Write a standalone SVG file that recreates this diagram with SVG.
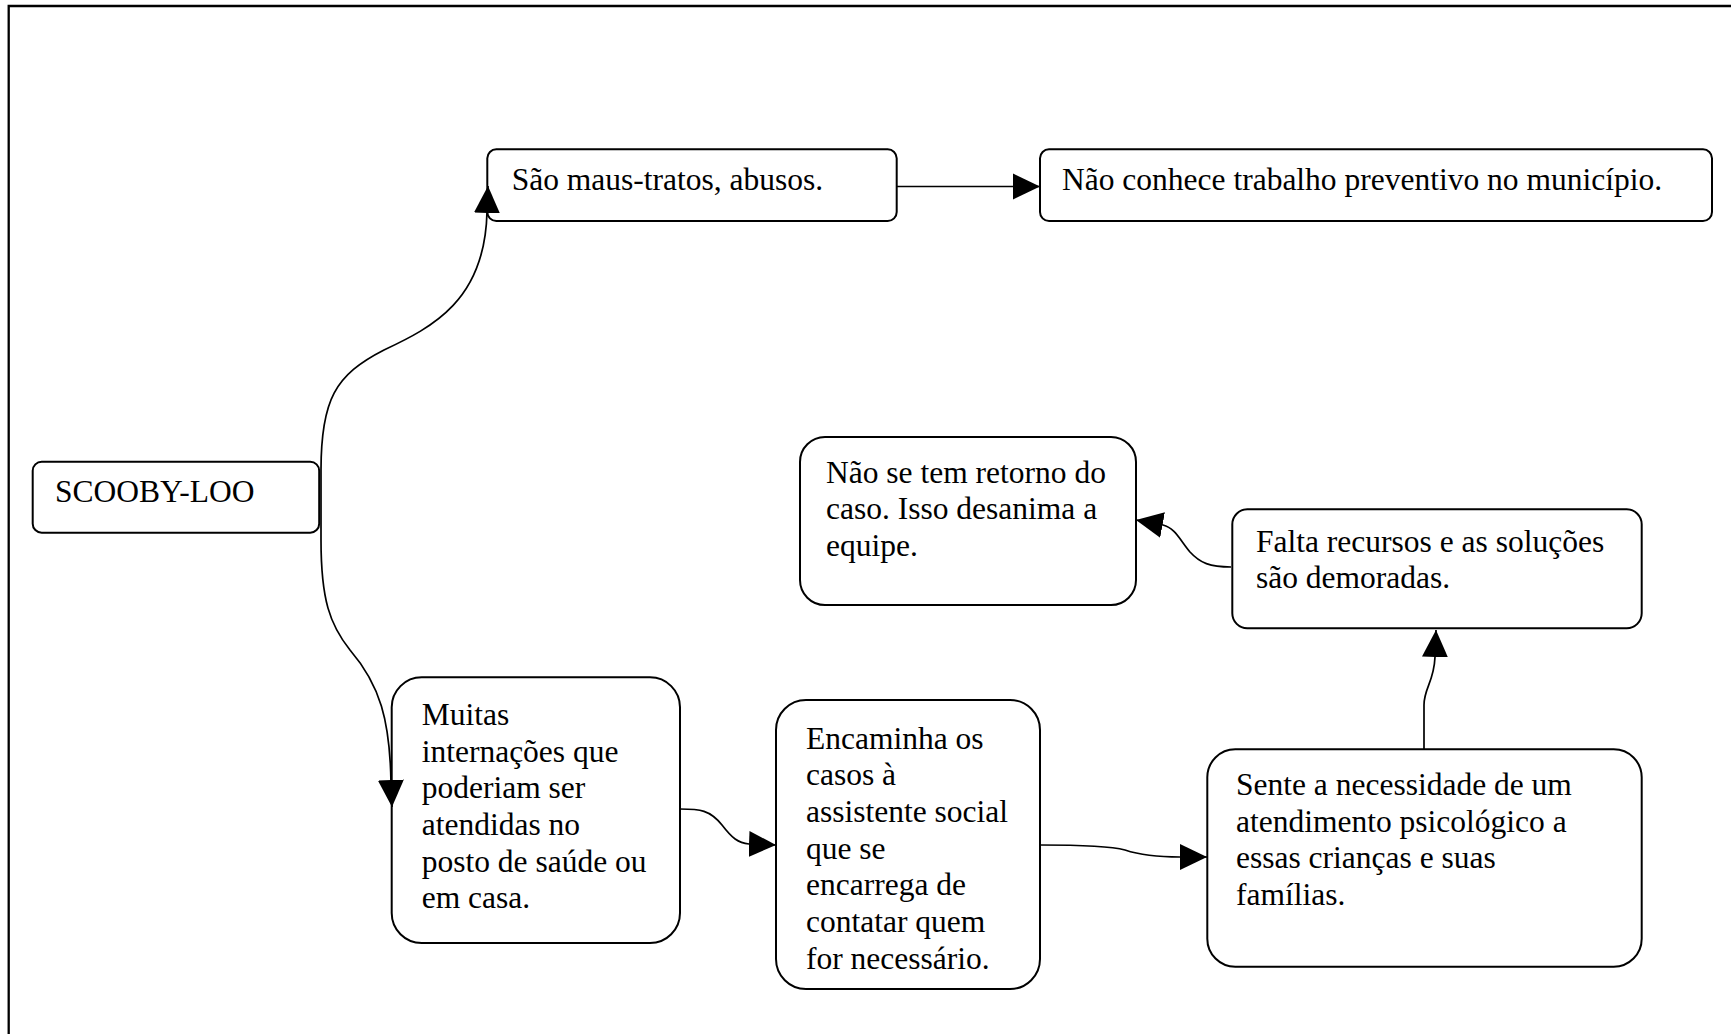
<svg xmlns="http://www.w3.org/2000/svg" width="1731" height="1034" viewBox="0 0 1731 1034">
  <style>
    .box { fill: #ffffff; stroke: #000000; stroke-width: 2; }
    .lbl { font-family: "Liberation Serif", "Times New Roman", serif; font-size: 31.5px; fill: #000000; }
    .edge { fill: none; stroke: #000000; stroke-width: 1.7; }
  </style>
  <defs>
    <marker id="arrow" markerUnits="userSpaceOnUse" markerWidth="28" markerHeight="28" refX="27" refY="13" orient="auto" viewBox="0 0 28 26">
      <path d="M0,0 L27,13 L0,26 Z" fill="#000000"/>
    </marker>
  </defs>

  <rect width="1731" height="1034" fill="#ffffff"/>
  <!-- outer frame (only top and left edges fall inside the page) -->
  <path d="M8.7 1034 L8.7 6 L1731 6" fill="none" stroke="#000000" stroke-width="2.3"/>

  <g id="scooby">
    <rect class="box" x="32.7" y="461.7" width="286.5" height="71" rx="9"/>
    <text class="lbl" x="55" y="501.7">SCOOBY-LOO</text>
  </g>

  <g id="maus-tratos">
    <rect class="box" x="487.3" y="149.3" width="409.4" height="71.7" rx="9"/>
    <text class="lbl" x="511.7" y="190">São maus-tratos, abusos.</text>
  </g>

  <g id="preventivo">
    <rect class="box" x="1040" y="149.3" width="672" height="71.7" rx="9"/>
    <text class="lbl" x="1062" y="190">Não conhece trabalho preventivo no município.</text>
  </g>

  <g id="retorno">
    <rect class="box" x="800" y="437" width="336" height="168" rx="25"/>
    <text class="lbl" x="826" y="482.7">Não se tem retorno do</text>
    <text class="lbl" x="826" y="519.3">caso. Isso desanima a</text>
    <text class="lbl" x="826" y="556">equipe.</text>
  </g>

  <g id="recursos">
    <rect class="box" x="1232.3" y="509.3" width="409.4" height="119" rx="15"/>
    <text class="lbl" x="1256" y="551.7">Falta recursos e as soluções</text>
    <text class="lbl" x="1256" y="588.3">são demoradas.</text>
  </g>

  <g id="internacoes">
    <rect class="box" x="391.7" y="677.3" width="288.3" height="265.7" rx="30"/>
    <text class="lbl" x="421.7" y="725">Muitas</text>
    <text class="lbl" x="421.7" y="761.7">internações que</text>
    <text class="lbl" x="421.7" y="798.3">poderiam ser</text>
    <text class="lbl" x="421.7" y="835">atendidas no</text>
    <text class="lbl" x="421.7" y="871.7">posto de saúde ou</text>
    <text class="lbl" x="421.7" y="908.3">em casa.</text>
  </g>

  <g id="encaminha">
    <rect class="box" x="776" y="700" width="264" height="289" rx="30"/>
    <text class="lbl" x="806" y="748.5">Encaminha os</text>
    <text class="lbl" x="806" y="785.2">casos à</text>
    <text class="lbl" x="806" y="821.8">assistente social</text>
    <text class="lbl" x="806" y="858.5">que se</text>
    <text class="lbl" x="806" y="895.2">encarrega de</text>
    <text class="lbl" x="806" y="931.8">contatar quem</text>
    <text class="lbl" x="806" y="968.5">for necessário.</text>
  </g>

  <g id="psicologico">
    <rect class="box" x="1207.3" y="749.3" width="434.4" height="217.4" rx="28"/>
    <text class="lbl" x="1236" y="795">Sente a necessidade de um</text>
    <text class="lbl" x="1236" y="831.7">atendimento psicológico a</text>
    <text class="lbl" x="1236" y="868.3">essas crianças e suas</text>
    <text class="lbl" x="1236" y="905">famílias.</text>
  </g>

  <g id="connectors">
    <!-- SCOOBY-LOO to "São maus-tratos" -->
    <path class="edge" d="M321 497 L321 470 C321 400 335 375 384 350 C433 327 485 300 487 212 L488 186" marker-end="url(#arrow)"/>
    <!-- SCOOBY-LOO to "Muitas internações" -->
    <path class="edge" d="M321 497 L321 540 C321 600 330 625 350 650 C380 685 390 720 391 783 L392 807" marker-end="url(#arrow)"/>
    <!-- "São maus-tratos" to "Não conhece" -->
    <path class="edge" d="M897 186.5 L1040 186.5" marker-end="url(#arrow)"/>
    <!-- "Muitas internações" to "Encaminha" -->
    <path class="edge" d="M680 809 C700 809 710 810 722 825 C732 838 738 843 749 844 L776 845" marker-end="url(#arrow)"/>
    <!-- "Encaminha" to "Sente a necessidade" -->
    <path class="edge" d="M1040 845 C1080 845 1110 846 1125 850 C1140 855 1160 857 1180 857 L1207 857" marker-end="url(#arrow)"/>
    <!-- "Sente a necessidade" to "Falta recursos" -->
    <path class="edge" d="M1424 749 L1424 705 C1424 688 1434 682 1435 657 L1436 630" marker-end="url(#arrow)"/>
    <!-- "Falta recursos" to "Não se tem retorno" -->
    <path class="edge" d="M1231 567 C1210 567 1200 563 1190 552 C1180 540 1175 528 1163 525 L1136 520" marker-end="url(#arrow)"/>
  </g>
</svg>
